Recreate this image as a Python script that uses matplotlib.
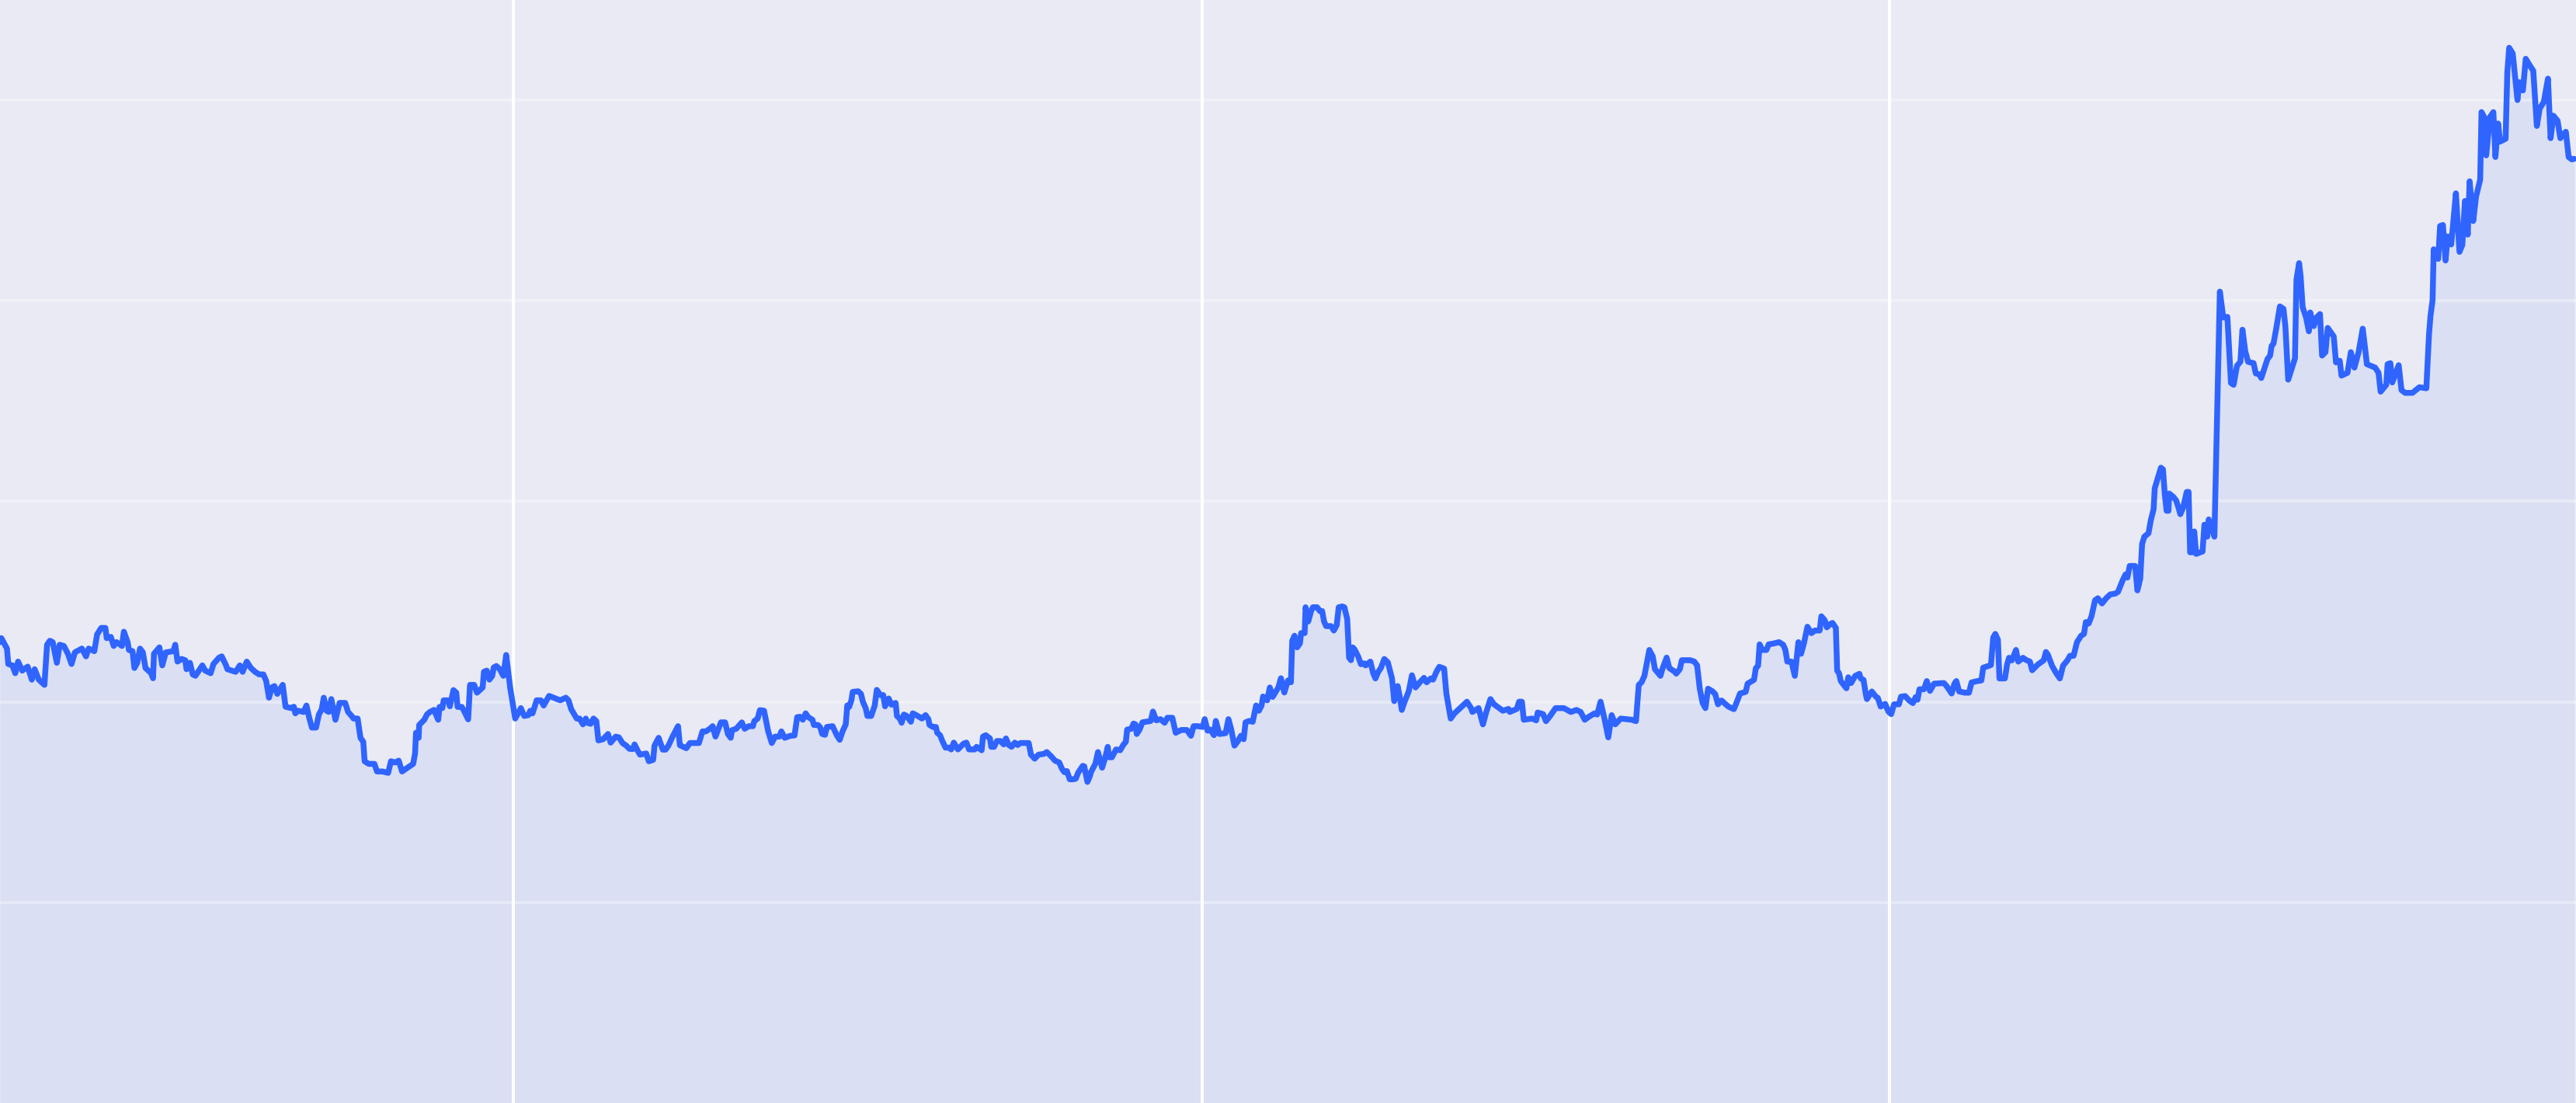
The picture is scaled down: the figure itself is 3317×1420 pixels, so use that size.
import pandas as pd
import matplotlib
matplotlib.use("Agg")
import matplotlib.pyplot as plt

# days since the first sample, and the price
days = [
    0.0, 0.7, 3.7, 4.4, 6.6, 8.1, 9.6, 11.8, 14.7, 16.9,
    18.4, 20.6, 23.6, 25.0, 26.5, 28.0, 30.2, 31.7, 33.9, 36.1,
    38.0, 39.8, 43.5, 45.7, 47.1, 50.1, 51.6, 53.8, 56.0, 56.7,
    58.9, 60.4, 61.9, 64.8, 65.8, 67.8, 68.5, 70.4, 71.4, 72.9,
    74.4, 75.9, 77.3, 80.3, 81.3, 81.8, 84.7, 86.2, 88.1, 92.1,
    93.1, 94.3, 96.5, 98.4, 99.1, 100.9, 102.4, 103.8, 107.5, 109.0,
    111.9, 113.4, 116.4, 117.8, 120.1, 120.8, 125.2, 127.4, 128.9, 131.1,
    133.3, 135.5, 137.7, 139.9, 141.4, 142.9, 144.4, 145.8, 147.3, 150.2,
    151.7, 154.7, 156.1, 156.9, 158.3, 161.3, 162.8, 164.2, 165.7, 167.9,
    169.4, 170.9, 172.0, 173.5, 174.6, 176.0, 178.2, 180.4, 183.4, 184.9,
    186.8, 187.8, 190.0, 191.5, 193.0, 193.7, 195.9, 198.9, 200.3, 203.3,
    206.2, 207.7, 209.9, 211.8, 213.6, 216.5, 219.5, 220.5, 221.0, 222.4,
    222.7, 225.4, 226.8,
    228.4, 230.6, 232.8, 233.5, 235.0, 235.7, 238.0, 239.0, 240.9, 242.4,
    243.1, 245.3, 246.8, 248.7, 249.7, 251.9, 253.4, 256.4, 257.1, 258.6,
    260.0, 261.5, 262.3, 263.7, 265.5, 267.4, 268.9, 271.1, 273.7, 276.7,
    278.5, 280.7, 281.7, 282.9, 285.1, 287.3, 288.8, 291.7, 297.6, 300.6,
    302.0, 303.5, 306.4, 307.9, 309.7, 311.2, 312.3, 313.8, 315.3, 316.8,
    317.9, 320.4, 323.0, 324.4, 327.1, 328.8, 330.7, 332.7, 334.4, 336.2,
    337.1, 338.8, 340.0, 343.3, 344.7, 347.0, 347.7, 349.9, 352.1, 353.6,
    355.1, 357.3, 360.2, 361.2, 364.6, 366.5, 371.3, 373.2, 375.0, 377.1,
    378.6, 380.1, 383.0, 385.2, 386.7, 388.2, 388.9, 391.1, 394.1, 395.6,
    397.8, 400.0, 400.7, 402.5, 403.7, 405.9, 408.1, 410.0, 411.8, 414.0,
    415.1, 416.9, 419.9, 422.1, 423.5, 425.0, 426.5, 428.0, 429.4, 431.6,
    432.4, 434.6, 435.8, 436.8, 438.3, 439.3, 442.3, 444.6, 446.1, 447.6,
    449.3, 450.1, 451.1, 452.3, 453.0, 455.9,
    457.4, 458.4, 459.9, 460.8, 462.8, 464.7, 465.8, 467.7, 469.2, 470.2,
    472.1, 473.6, 475.8, 476.5, 478.0, 479.0, 480.2, 481.7, 483.9, 484.9,
    486.8, 489.8, 491.7, 493.2, 493.8, 495.7, 497.2, 497.9, 499.4, 500.5,
    502.3, 504.5, 505.3, 506.7, 508.9, 511.9, 513.4, 514.8, 517.8, 518.8,
    520.0, 521.5, 522.2, 523.7, 525.9, 526.6, 528.1, 529.6, 531.5, 533.2,
    534.4, 535.9, 537.4, 539.1, 540.6, 542.1, 546.5, 547.7, 549.7, 551.7,
    554.6, 556.1, 558.3, 560.5, 562.7, 564.2, 565.4, 566.8, 568.3, 570.1,
    571.5, 572.7, 575.2, 576.0, 577.7, 578.9, 579.6, 581.9, 583.3, 585.5,
    587.0, 588.5, 589.2, 590.7, 592.9, 595.1, 596.9, 598.1, 598.8, 601.0,
    602.2, 603.2, 603.9, 605.4, 606.9, 611.3, 612.5, 614.3, 616.5, 618.7,
    620.2, 622.8, 624.6, 627.5, 630.5, 632.7, 634.1, 636.4, 639.0, 640.0,
    641.5, 643.0, 644.9, 645.9, 647.8, 651.1, 652.6, 654.0, 655.8, 657.7,
    659.2, 660.7, 661.7, 663.6, 665.5, 667.3, 668.8, 670.2, 671.0, 673.2,
    674.6, 676.1, 679.1, 680.5, 682.3, 684.2,
    685.8, 686.5, 687.7, 689.1, 690.6, 691.2, 693.1, 693.6, 695.0, 696.5,
    697.5, 699.7, 701.2, 702.4, 703.4, 704.5, 707.1, 708.6, 710.1, 711.2,
    713.0, 714.2, 715.7, 716.7, 717.7, 718.6, 719.6, 721.5, 723.0, 724.8,
    725.5, 728.0, 729.5, 730.7, 732.2, 733.6, 735.4, 737.3, 739.5, 740.7,
    742.5, 743.6, 744.7, 746.1, 748.4, 750.1, 752.0, 754.3, 756.5, 757.9,
    760.1, 761.3, 763.1, 764.6, 767.2, 768.4, 770.7, 772.7, 774.9, 777.8,
    779.3, 781.5, 782.2, 785.5, 787.8, 789.6, 791.8, 793.7, 798.4, 801.4,
    802.1, 805.8, 807.0, 808.5, 809.5, 813.9, 816.1, 816.9, 819.8, 821.3,
    823.5, 826.4, 828.6, 830.8, 834.5, 837.5, 839.7, 841.9, 844.1, 847.1,
    848.5, 850.3, 852.2, 854.4, 856.2, 858.1, 861.0, 866.9, 869.1, 870.6,
    872.1, 873.6, 876.2, 878.0, 879.2, 882.1, 883.1, 885.4, 886.8, 889.8,
    890.5, 892.4, 893.5, 897.9, 900.1, 901.6, 903.0, 904.5, 906.0, 907.4,
    909.7,
    911.2, 912.7, 914.6, 917.1, 918.5, 921.1, 922.2, 924.4, 927.4, 928.4,
    931.8, 932.8, 934.0, 934.8, 936.2, 938.4, 939.6, 942.1, 945.1, 947.3,
    948.5, 949.5, 951.7, 953.5, 955.4, 956.8, 958.3, 960.2, 962.3, 964.2,
    966.7, 967.6, 969.4, 970.5, 972.3, 973.5, 975.3, 976.0, 977.0, 977.9,
    980.9, 981.9, 983.4, 984.4, 985.6, 987.8, 988.5, 990.0, 991.2, 991.8,
    994.4, 996.6, 997.6, 999.1, 1001.5, 1003.2, 1004.7, 1006.2, 1008.8, 1009.9,
    1012.1, 1014.3, 1016.2, 1017.7, 1018.7, 1019.7, 1022.1, 1023.6, 1025.3, 1027.5,
    1032.7, 1034.2, 1036.8, 1038.3, 1039.3, 1040.8, 1043.8, 1046.0, 1047.4, 1050.4,
    1052.6, 1053.6, 1056.3, 1057.7, 1058.9, 1060.0, 1061.4, 1062.2, 1065.1, 1066.3,
    1067.3, 1068.8, 1071.0, 1072.2, 1074.7, 1076.2, 1078.4, 1079.6, 1082.8, 1085.7,
    1086.9, 1087.9, 1090.2, 1092.4, 1094.3, 1096.0, 1098.3, 1099.7, 1101.6, 1103.4,
    1105.6, 1107.1, 1108.1, 1109.6, 1111.1, 1113.0, 1114.5, 1116.7, 1118.9, 1121.1,
    1123.7, 1125.2, 1127.7, 1129.2, 1130.2, 1131.4, 1134.3, 1135.5, 1137.0, 1138.0,
    1139.2, 1141.4, 1142.6, 1144.1, 1144.7, 1146.6, 1148.0, 1149.1, 1150.0, 1151.0,
    1152.0, 1152.4, 1154.6, 1156.1, 1157.3, 1158.3, 1159.8, 1161.7, 1162.7, 1163.5,
    1164.6, 1165.7, 1166.7, 1170.1, 1171.1, 1172.6, 1173.4, 1174.5, 1175.2, 1176.4,
    1177.8, 1179.3, 1181.1, 1183.3, 1185.2, 1186.6, 1188.4, 1190.2, 1191.3, 1192.8,
    1194.3, 1197.2, 1198.4, 1200.2, 1201.3, 1203.1, 1204.6, 1206.0, 1206.8, 1207.8,
    1209.3, 1211.2, 1213.1, 1214.1, 1215.6, 1219.2, 1220.0, 1221.4, 1222.2, 1223.3,
    1225.1, 1226.6, 1227.3, 1229.2, 1230.7, 1232.5, 1233.6, 1235.4, 1236.6, 1239.8,
    1241.0, 1243.0, 1243.9, 1247.1, 1248.9, 1250.8, 1253.0, 1255.2, 1256.7, 1257.4,
    1261.8, 1263.6, 1264.7, 1267.7, 1268.4, 1269.9, 1270.9, 1274.3, 1275.8, 1277.7,
    1281.6, 1285.3, 1289.0, 1290.4, 1291.2, 1292.3, 1292.9, 1295.3, 1296.3, 1297.8,
    1299.2, 1300.3, 1302.2, 1303.2, 1304.7, 1306.6, 1308.1, 1309.5, 1311.0, 1312.0,
    1313.9, 1315.4, 1317.6, 1318.3, 1319.8, 1320.8, 1322.7, 1324.6, 1325.7, 1327.1,
    1328.2, 1331.1, 1332.0, 1333.0, 1334.9, 1337.4, 1338.4, 1340.3, 1341.8, 1344.0,
    1345.8, 1347.7, 1349.2, 1351.4, 1353.6, 1355.0, 1356.5, 1358.7, 1360.2, 1361.6,
    1363.1, 1364.6, 1366.3, 1367.5,
]

price = [
    229.8, 231.8, 226.6, 218.9, 218.2, 214.3, 220.1, 215.6, 217.6, 211.1,
    216.3, 211.1, 208.5, 228.5, 230.5, 229.8, 219.5, 228.5, 227.9, 224.0,
    218.9, 224.7, 226.6, 222.7, 226.6, 225.3, 233.7, 236.9, 236.9, 231.8,
    232.4, 227.9, 229.8, 227.9, 235.0, 229.8, 225.9, 225.3, 216.9, 219.5,
    226.6, 224.7, 216.9, 214.3, 211.8, 224.0, 227.2, 218.2, 224.7, 225.3,
    228.5, 220.1, 221.4, 220.8, 216.3, 219.5, 213.7, 213.0, 218.2, 215.6,
    214.3, 218.9, 222.1, 222.7, 218.2, 216.3, 215.0, 218.2, 215.0, 220.1,
    216.9, 215.0, 213.7, 213.7, 210.5, 202.1, 207.2, 207.9, 204.0, 208.5,
    197.6, 196.9, 197.6, 194.3, 195.6, 195.0, 198.2, 192.4, 187.2, 187.2,
    193.7, 196.3, 202.1, 195.6, 195.0, 201.4, 191.1, 199.5, 199.5, 195.0,
    193.0, 191.7, 191.7, 182.1, 180.1, 170.4, 169.1, 169.1, 165.3, 165.3,
    164.6, 170.4, 169.8, 170.7, 165.3, 167.2, 169.1, 174.3, 184.6, 182.1,
    188.5, 191.1, 193.7,
    195.0, 196.0, 191.1, 197.5, 196.9, 200.8, 200.8, 197.8, 205.9, 204.6,
    197.5, 197.5, 195.0, 191.3, 208.5, 208.5, 204.6, 207.2, 215.0, 215.6,
    211.1, 213.0, 217.2, 217.9, 216.3, 213.0, 223.4, 206.6, 191.7, 196.9,
    193.0, 193.4, 195.6, 194.3, 200.8, 200.8, 198.2, 203.0, 200.8, 202.1,
    200.8, 196.3, 191.7, 191.7, 188.8, 191.7, 189.5, 189.1, 191.7, 190.4,
    180.8, 181.4, 184.0, 179.7, 182.7, 182.3, 179.5, 178.2, 176.6, 176.5,
    178.8, 175.6, 173.7, 174.3, 170.4, 171.1, 178.2, 182.1, 176.2, 176.2,
    178.2, 182.7, 187.9, 178.4, 176.9, 179.5, 179.5, 185.3, 185.3, 186.6,
    187.9, 182.7, 189.8, 189.8, 184.0, 182.1, 185.9, 186.6, 189.8, 186.6,
    187.9, 187.9, 190.4, 191.7, 195.9, 195.6, 185.3, 179.5, 182.7, 182.7,
    185.3, 182.1, 183.1, 183.3, 192.4, 192.6, 191.1, 194.3, 192.4, 191.1,
    188.5, 188.5, 187.2, 184.0, 183.6, 187.5, 187.9, 183.3, 181.1, 185.3,
    188.8, 198.2, 197.5, 200.8, 205.0, 205.3,
    204.0, 200.1, 196.9, 193.0, 193.0, 198.2, 206.0, 203.4, 203.4, 197.8,
    201.7, 198.6, 199.5, 193.0, 191.7, 189.6, 193.7, 193.0, 190.1, 194.3,
    193.4, 191.7, 193.4, 191.4, 188.5, 187.5, 187.5, 184.6, 183.4, 180.8,
    177.2, 177.2, 176.3, 179.7, 176.3, 179.2, 179.7, 176.3, 176.3, 177.6,
    176.9, 175.9, 182.7, 183.4, 181.8, 177.6, 177.6, 180.5, 180.5, 178.8,
    181.8, 178.5, 177.6, 179.7, 178.5, 179.5, 179.5, 173.7, 171.7, 173.7,
    174.1, 175.0, 173.0, 170.7, 169.8, 166.6, 165.0, 165.5, 161.4, 161.4,
    161.7, 164.6, 168.1, 167.9, 160.1, 162.7, 165.0, 169.2, 175.0, 167.2,
    171.7, 177.6, 172.4, 172.4, 176.3, 175.9, 178.8, 180.1, 186.2, 186.6,
    189.2, 188.8, 184.0, 186.2, 189.8, 190.5, 195.2, 190.8, 191.4, 189.6,
    192.1, 192.1, 184.6, 186.0, 186.0, 183.1, 187.9, 187.9, 187.5, 191.4,
    185.7, 186.2, 183.4, 190.5, 184.0, 184.4, 191.4, 186.6, 178.2, 180.5,
    183.1, 181.4, 189.8, 190.5, 190.1, 198.2, 195.6, 198.2, 202.7, 200.8,
    207.2, 202.5, 207.2, 211.8, 204.7, 210.7,
    209.8, 230.5, 233.0, 227.2, 229.2, 234.3, 234.3, 247.2, 240.1, 245.3,
    247.2, 247.2, 245.3, 245.3, 240.1, 237.8, 237.8, 235.6, 238.2, 247.2,
    247.6, 247.2, 241.4, 222.1, 220.8, 227.2, 226.2, 222.7, 218.8, 219.2,
    218.2, 220.1, 214.3, 211.7, 215.0, 216.9, 221.4, 219.7, 211.7, 200.4,
    207.9, 202.7, 196.0, 199.9, 205.3, 213.3, 207.2, 209.8, 212.0, 209.8,
    211.7, 211.1, 215.0, 217.5, 216.6, 204.0, 191.7, 194.3, 196.2, 198.8,
    200.1, 196.9, 195.0, 196.9, 188.8, 195.0, 201.4, 198.8, 195.6, 196.5,
    195.0, 196.5, 200.1, 200.1, 191.1, 191.7, 190.8, 194.7, 193.9, 190.4,
    193.0, 196.9, 196.9, 196.9, 195.0, 196.0, 195.0, 191.1, 192.6, 194.3,
    193.7, 200.1, 192.4, 182.3, 193.4, 188.8, 191.7, 191.1, 190.4, 208.5,
    209.8, 213.0, 225.9, 222.7, 216.3, 213.0, 216.3, 222.1, 216.9, 215.0,
    214.1, 216.3, 220.8, 220.8, 220.1, 218.2, 206.6, 199.5, 196.9, 206.6,
    205.3,
    203.9, 198.8, 200.7, 198.5, 197.5, 196.4, 198.8, 204.2, 205.0, 209.1,
    211.0, 216.8, 218.1, 228.7, 225.9, 225.9, 228.7, 229.1, 229.8, 228.5,
    225.9, 220.1, 220.1, 213.0, 229.8, 224.0, 229.1, 237.5, 234.3, 235.6,
    235.6, 242.7, 240.7, 237.2, 238.8, 239.4, 236.9, 215.6, 214.3, 210.4,
    206.8, 212.3, 209.4, 211.0, 213.0, 214.0, 211.7, 211.0, 203.9, 201.4,
    205.2, 202.6, 202.0, 197.7, 199.0, 195.2, 193.9, 198.8, 198.8, 202.6,
    202.9, 200.7, 199.4, 202.4, 201.1, 206.3, 206.3, 210.4, 205.5, 209.1,
    209.4, 207.8, 204.2, 209.1, 210.4, 205.2, 204.6, 204.6, 209.7, 210.4,
    210.7, 217.1, 217.9, 218.4, 232.1, 233.9, 231.0, 211.7, 211.7, 218.8,
    222.0, 220.7, 225.9, 220.1, 222.0, 221.0, 220.1, 215.8, 218.8, 220.7,
    224.9, 223.6, 217.9, 214.3, 211.7, 218.1, 220.7, 223.0, 223.0, 229.8,
    233.0, 233.9, 239.8, 239.1, 242.7, 250.7, 251.7, 249.1, 251.7, 253.6,
    254.0, 254.9, 260.7, 263.6, 262.0, 267.8, 267.8, 255.6, 261.4, 278.8,
    282.4, 284.1, 290.5, 296.1, 306.5, 312.5, 316.8, 315.9, 303.9, 295.3,
    295.3, 303.9, 302.2, 300.4, 297.0, 293.6, 297.0, 304.7, 304.7, 274.6,
    274.6, 285.0, 273.8, 275.0, 288.4, 282.4, 291.0, 286.7, 286.7, 282.4,
    341.8, 404.6, 391.7, 392.0, 359.0, 358.1, 367.6, 369.6, 385.6, 374.8,
    369.6, 368.9, 363.8, 363.3, 361.5, 366.7, 371.0, 372.7, 377.5, 378.7,
    386.5, 397.2, 396.0, 387.4, 360.7, 371.3, 410.6, 418.8, 412.3, 396.8,
    391.7, 384.8, 394.2, 387.4, 391.7, 393.4, 372.7, 374.4, 386.5, 382.2,
    369.3, 370.1, 362.7, 364.1, 374.4, 366.7, 374.4, 386.1, 374.4, 368.4,
    366.7, 364.1, 354.7, 358.1, 368.4, 368.9, 359.3, 367.9, 355.5, 354.1,
    354.1, 356.9, 356.4, 383.1, 392.5, 400.3, 425.7, 420.9, 437.3, 437.8,
    420.1, 432.1, 428.1, 438.1, 453.6, 424.4, 427.8, 449.8, 433.0, 459.6,
    439.8, 451.9, 460.5, 494.1, 491.5, 472.5, 491.5, 494.1, 471.7, 488.4,
    479.4, 480.8, 513.8, 526.2, 523.3, 500.1, 509.0, 504.9, 520.7, 517.3,
    514.7, 487.2, 495.8, 499.2, 510.8, 481.1, 492.3, 489.8, 481.1, 482.9,
    484.3, 471.7, 470.5, 470.8,
]

start = pd.Timestamp("2019-04-03 08:00")
dates = start + pd.to_timedelta(days, unit="D")
year_lines = pd.to_datetime(["2020-01-01", "2021-01-01", "2022-01-01"])
level_lines = [100, 200, 300, 400, 500]

line_color = "#2F64FF"

fig = plt.figure(figsize=(33.17, 14.2), dpi=100)
fig.patch.set_facecolor("#E9EAF3")
ax = fig.add_axes([0, 0, 1, 1])
ax.set_facecolor("#E9EAF3")

ax.fill_between(dates, price, 0, color=line_color, alpha=0.08, lw=0, zorder=1)
ax.plot(dates, price, color=line_color, lw=5.4, zorder=3,
        solid_joinstyle="round", solid_capstyle="round")

ax.set_xlim(start, pd.Timestamp("2022-12-31 20:00"))
ax.set_ylim(0, 550)

# white yearly lines on top of the area, softer horizontal lines
ax.set_xticks(year_lines)
ax.set_yticks(level_lines)
ax.set_axisbelow(False)
ax.grid(axis="x", color="white", lw=2.9, alpha=1.0)
ax.grid(axis="y", color="white", lw=2.9, alpha=0.35)
ax.tick_params(length=0, labelbottom=False, labelleft=False)
for s in ax.spines.values():
    s.set_visible(False)

fig.savefig("out.png", dpi=100, facecolor=fig.get_facecolor())
